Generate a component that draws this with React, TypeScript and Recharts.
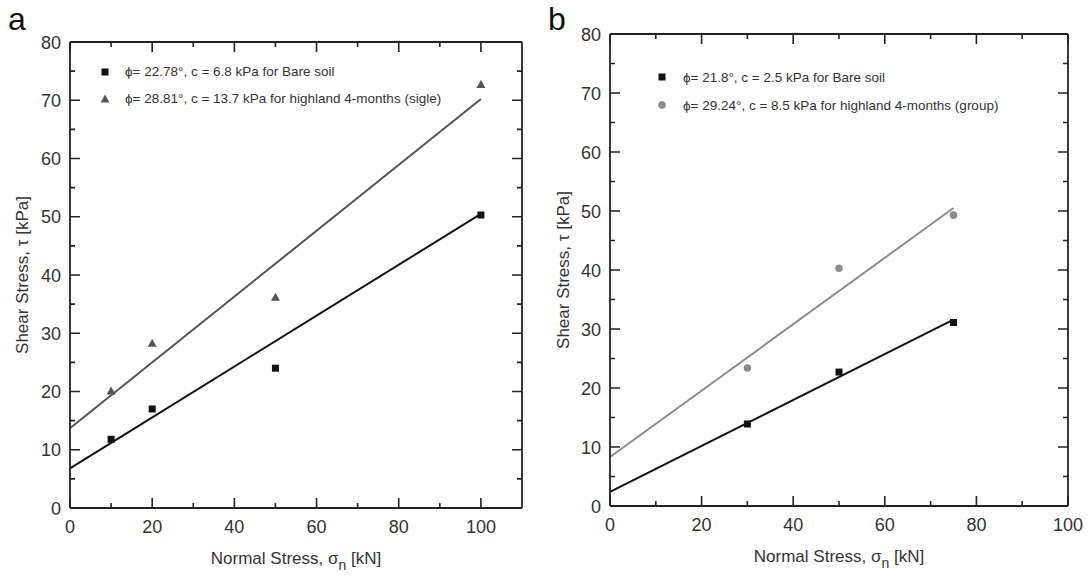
import React from 'react';
import { ComposedChart, Scatter, Line, XAxis, YAxis, Legend, Label } from 'recharts';

// ---- panel a: single root ----
const bareAX = [10, 20, 50, 100];
const bareAY = [11.8, 17.0, 24.0, 50.3];
const highlandAX = [10, 20, 50, 100];
const highlandAY = [20.1, 28.3, 36.2, 72.7];
const bareFitAX = [0, 100];
const bareFitAY = [6.8, 50.5];
const highlandFitAX = [0, 100];
const highlandFitAY = [13.7, 70.2];

// ---- panel b: root group ----
const bareBX = [30, 50, 75];
const bareBY = [13.9, 22.7, 31.1];
const groupBX = [30, 50, 75];
const groupBY = [23.4, 40.3, 49.3];
const bareFitBX = [0, 75];
const bareFitBY = [2.4, 31.6];
const groupFitBX = [0, 75];
const groupFitBY = [8.3, 50.5];

// ---- ticks ----
const xTicksA = [0, 10, 20, 30, 40, 50, 60, 70, 80, 90, 100];
const xTicksB = [0, 10, 20, 30, 40, 50, 60, 70, 80, 90, 100];
const xLabels = [0, 20, 40, 60, 80, 100];
const yTicks = [0, 5, 10, 15, 20, 25, 30, 35, 40, 45, 50, 55, 60, 65, 70, 75, 80];
const yLabels = [0, 10, 20, 30, 40, 50, 60, 70, 80];

const legendA = [
  'ϕ= 22.78°, c = 6.8 kPa for Bare soil',
  'ϕ= 28.81°, c = 13.7 kPa for highland 4-months (sigle)',
];
const legendB = [
  'ϕ= 21.8°, c = 2.5 kPa for Bare soil',
  'ϕ= 29.24°, c = 8.5 kPa for highland 4-months (group)',
];

const zip = (xs: number[], ys: number[]) => xs.map((x, i) => ({ x, y: ys[i] }));

const FONT = '"Liberation Sans", Arial, sans-serif';
const INK = '#222222';
const TEXT = '#333333';
const BLACK = '#111111';
const GRAY_A = '#555555';
const GRAY_B = '#8c8c8c';

// plot box sizes in px (chart size minus margins and axis sizes)
const PLOT_A = { w: 545 - 70 - 22 - 1, h: 581 - 41 - 73 - 1 };
const PLOT_B = { w: 545 - 65 - 21 - 1, h: 581 - 33 - 75 - 1 };
const MAJOR_PX = 10;
const MINOR_PX = 5;

// inward tick marks as short segments, split apart by null points
type Pt = { x: number; y: number | null };
const tickSegments = (vals: number[], labelled: number[], along: 'x' | 'y', at: number, unit: number) => {
  const out: Pt[] = [];
  vals.forEach((v) => {
    const len = (labelled.includes(v) ? MAJOR_PX : MINOR_PX) * unit;
    if (along === 'x') {
      out.push({ x: v, y: at }, { x: v, y: at + len }, { x: v, y: null });
    } else {
      out.push({ x: at, y: v }, { x: at + len, y: v }, { x: at + len, y: null });
    }
  });
  return out;
};

const uxA = 110 / PLOT_A.w;
const uyA = 80 / PLOT_A.h;
const uxB = 100 / PLOT_B.w;
const uyB = 80 / PLOT_B.h;

const bottomTicksA = tickSegments(xTicksA, xLabels, 'x', 0, uyA);
const topTicksA = tickSegments(xTicksA, xLabels, 'x', 80, -uyA);
const leftTicksA = tickSegments(yTicks, yLabels, 'y', 0, uxA);
const rightTicksA = tickSegments(yTicks, yLabels, 'y', 110, -uxA);

const bottomTicksB = tickSegments(xTicksB, xLabels, 'x', 0, uyB);
const topTicksB = tickSegments(xTicksB, xLabels, 'x', 80, -uyB);
const leftTicksB = tickSegments(yTicks, yLabels, 'y', 0, uxB);
const rightTicksB = tickSegments(yTicks, yLabels, 'y', 100, -uxB);

// axis tick labels (bottom / left only)
const labelBottom = (props: any) => {
  const v = Number(props.payload.value);
  if (!xLabels.includes(v)) return <g />;
  return (
    <text x={Number(props.x)} y={Number(props.y) + 25} textAnchor="middle" fontSize={18} fill={TEXT} fontFamily={FONT}>
      {String(v)}
    </text>
  );
};

const labelLeft = (props: any) => {
  const v = Number(props.payload.value);
  if (!yLabels.includes(v)) return <g />;
  return (
    <text x={Number(props.x) - 9} y={Number(props.y) + 6.5} textAnchor="end" fontSize={18} fill={TEXT} fontFamily={FONT}>
      {String(v)}
    </text>
  );
};

const XTitle = (props: any) => {
  const vb = props.viewBox;
  return (
    <text x={vb.x + vb.width / 2} y={vb.y + 56} textAnchor="middle" fontSize={17} fill={TEXT} fontFamily={FONT}>
      Normal Stress, σ
      <tspan dy={6} fontSize={14}>n</tspan>
      <tspan dy={-6}> [kN]</tspan>
    </text>
  );
};

const yTitle = (cx: number) => (props: any) => {
  const vb = props.viewBox;
  const cy = vb.y + vb.height / 2;
  return (
    <text
      x={cx}
      y={cy}
      transform={`rotate(-90 ${cx} ${cy})`}
      textAnchor="middle"
      dominantBaseline="central"
      fontSize={17}
      fill={TEXT}
      fontFamily={FONT}
    >
      Shear Stress, τ [kPa]
    </text>
  );
};

const squareShape = (color: string) => (props: any) => (
  <rect x={props.cx - 3.5} y={props.cy - 3.5} width={7} height={7} fill={color} />
);
const triangleShape = (color: string) => (props: any) => (
  <polygon
    points={`${props.cx},${props.cy - 4.5} ${props.cx + 4.5},${props.cy + 3.5} ${props.cx - 4.5},${props.cy + 3.5}`}
    fill={color}
  />
);
const circleShape = (color: string) => (props: any) => (
  <circle cx={props.cx} cy={props.cy} r={3.8} fill={color} />
);

const icon = (kind: string, color: string) => (
  <svg width={12} height={12} style={{ flex: 'none' }}>
    {kind === 'square' && <rect x={2.5} y={2.5} width={7} height={7} fill={color} />}
    {kind === 'triangle' && <polygon points="6,1.5 10.5,9.5 1.5,9.5" fill={color} />}
    {kind === 'circle' && <circle cx={6} cy={6} r={3.8} fill={color} />}
  </svg>
);

const legendContent =
  (labels: string[], kinds: string[], colors: string[], rowH: number, gap: number) => () => (
    <div style={{ fontFamily: FONT, fontSize: 13.5, color: TEXT }}>
      {labels.map((t, i) => (
        <div key={t} style={{ display: 'flex', alignItems: 'center', height: rowH, whiteSpace: 'nowrap' }}>
          {icon(kinds[i], colors[i])}
          <span style={{ marginLeft: gap }}>{t}</span>
        </div>
      ))}
    </div>
  );

const frame = { stroke: INK, strokeWidth: 1.8 };

const PanelA = () => (
  <ComposedChart width={545} height={581} margin={{ top: 41, right: 22, bottom: 0, left: 0 }}>
    <XAxis
      dataKey="x"
      type="number"
      domain={[0, 110]}
      ticks={xTicksA}
      interval={0}
      height={73}
      tickSize={0}
      tickMargin={0}
      tickLine={false}
      tick={labelBottom}
      axisLine={frame}
    >
      <Label content={XTitle} />
    </XAxis>
    <XAxis xAxisId="top" orientation="top" type="number" domain={[0, 110]} height={1} tick={false} tickLine={false} axisLine={frame} />
    <YAxis
      type="number"
      domain={[0, 80]}
      ticks={yTicks}
      interval={0}
      width={70}
      tickSize={0}
      tickMargin={0}
      tickLine={false}
      tick={labelLeft}
      axisLine={frame}
    >
      <Label content={yTitle(22)} />
    </YAxis>
    <YAxis yAxisId="right" orientation="right" type="number" domain={[0, 80]} width={1} tick={false} tickLine={false} axisLine={frame} />
    <Line data={bottomTicksA} dataKey="y" type="linear" stroke={INK} strokeWidth={1.6} dot={false} connectNulls={false} legendType="none" isAnimationActive={false} />
    <Line data={topTicksA} dataKey="y" type="linear" stroke={INK} strokeWidth={1.6} dot={false} connectNulls={false} legendType="none" isAnimationActive={false} />
    <Line data={leftTicksA} dataKey="y" type="linear" stroke={INK} strokeWidth={1.6} dot={false} connectNulls={false} legendType="none" isAnimationActive={false} />
    <Line data={rightTicksA} dataKey="y" type="linear" stroke={INK} strokeWidth={1.6} dot={false} connectNulls={false} legendType="none" isAnimationActive={false} />
    <Line data={zip(highlandFitAX, highlandFitAY)} dataKey="y" type="linear" stroke={GRAY_A} strokeWidth={2} dot={false} legendType="none" isAnimationActive={false} />
    <Line data={zip(bareFitAX, bareFitAY)} dataKey="y" type="linear" stroke={BLACK} strokeWidth={2} dot={false} legendType="none" isAnimationActive={false} />
    <Scatter name={legendA[0]} data={zip(bareAX, bareAY)} dataKey="y" shape={squareShape(BLACK)} isAnimationActive={false} />
    <Scatter name={legendA[1]} data={zip(highlandAX, highlandAY)} dataKey="y" shape={triangleShape(GRAY_A)} isAnimationActive={false} />
    <Legend
      layout="vertical"
      align="center"
      verticalAlign="middle"
      wrapperStyle={{ left: 99, top: 58, width: 'auto' }}
      content={legendContent(legendA, ['square', 'triangle'], [BLACK, GRAY_A], 27, 14)}
    />
  </ComposedChart>
);

const PanelB = () => (
  <ComposedChart width={545} height={581} margin={{ top: 33, right: 21, bottom: 0, left: 0 }}>
    <XAxis
      dataKey="x"
      type="number"
      domain={[0, 100]}
      ticks={xTicksB}
      interval={0}
      height={75}
      tickSize={0}
      tickMargin={0}
      tickLine={false}
      tick={labelBottom}
      axisLine={frame}
    >
      <Label content={XTitle} />
    </XAxis>
    <XAxis xAxisId="top" orientation="top" type="number" domain={[0, 100]} height={1} tick={false} tickLine={false} axisLine={frame} />
    <YAxis
      type="number"
      domain={[0, 80]}
      ticks={yTicks}
      interval={0}
      width={65}
      tickSize={0}
      tickMargin={0}
      tickLine={false}
      tick={labelLeft}
      axisLine={frame}
    >
      <Label content={yTitle(18)} />
    </YAxis>
    <YAxis yAxisId="right" orientation="right" type="number" domain={[0, 80]} width={1} tick={false} tickLine={false} axisLine={frame} />
    <Line data={bottomTicksB} dataKey="y" type="linear" stroke={INK} strokeWidth={1.6} dot={false} connectNulls={false} legendType="none" isAnimationActive={false} />
    <Line data={topTicksB} dataKey="y" type="linear" stroke={INK} strokeWidth={1.6} dot={false} connectNulls={false} legendType="none" isAnimationActive={false} />
    <Line data={leftTicksB} dataKey="y" type="linear" stroke={INK} strokeWidth={1.6} dot={false} connectNulls={false} legendType="none" isAnimationActive={false} />
    <Line data={rightTicksB} dataKey="y" type="linear" stroke={INK} strokeWidth={1.6} dot={false} connectNulls={false} legendType="none" isAnimationActive={false} />
    <Line data={zip(groupFitBX, groupFitBY)} dataKey="y" type="linear" stroke={GRAY_B} strokeWidth={2} dot={false} legendType="none" isAnimationActive={false} />
    <Line data={zip(bareFitBX, bareFitBY)} dataKey="y" type="linear" stroke={BLACK} strokeWidth={2} dot={false} legendType="none" isAnimationActive={false} />
    <Scatter name={legendB[0]} data={zip(bareBX, bareBY)} dataKey="y" shape={squareShape(BLACK)} isAnimationActive={false} />
    <Scatter name={legendB[1]} data={zip(groupBX, groupBY)} dataKey="y" shape={circleShape(GRAY_B)} isAnimationActive={false} />
    <Legend
      layout="vertical"
      align="center"
      verticalAlign="middle"
      wrapperStyle={{ left: 111, top: 63, width: 'auto' }}
      content={legendContent(legendB, ['square', 'circle'], [BLACK, GRAY_B], 28, 15)}
    />
  </ComposedChart>
);

const panelLabel: React.CSSProperties = {
  position: 'absolute',
  top: 3,
  fontFamily: FONT,
  fontSize: 32,
  lineHeight: '32px',
  color: '#111',
};

export default function App() {
  return (
    <div style={{ position: 'absolute', left: 0, top: 0, width: 1090, height: 581, background: '#fff' }}>
      <div style={{ position: 'absolute', left: 0, top: 0 }}>
        <PanelA />
      </div>
      <div style={{ position: 'absolute', left: 545, top: 0 }}>
        <PanelB />
      </div>
      <div style={{ ...panelLabel, left: 8 }}>a</div>
      <div style={{ ...panelLabel, left: 548 }}>b</div>
    </div>
  );
}
